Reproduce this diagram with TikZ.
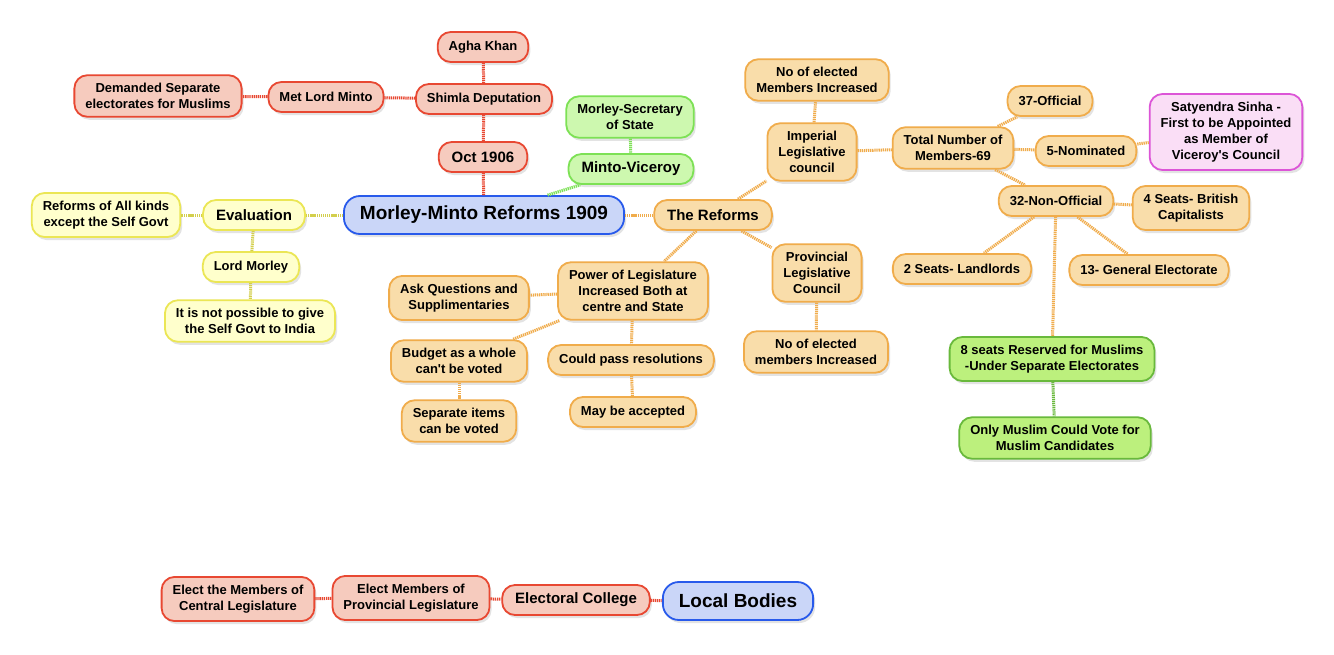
\documentclass[tikz,border=0pt]{standalone}
\usepackage{fontspec}
\setmainfont{Liberation Sans}
\usetikzlibrary{shadows}
\definecolor{redln}{RGB}{232,72,50}
\definecolor{redfl}{RGB}{246,203,190}
\definecolor{blueln}{RGB}{40,90,235}
\definecolor{bluefl}{RGB}{202,214,248}
\definecolor{greenln}{RGB}{125,225,85}
\definecolor{greenfl}{RGB}{205,248,175}
\definecolor{greendk}{RGB}{105,185,60}
\definecolor{greenmd}{RGB}{188,240,125}
\definecolor{yellowln}{RGB}{235,230,85}
\definecolor{yellowfl}{RGB}{255,255,204}
\definecolor{orangeln}{RGB}{240,172,75}
\definecolor{orangefl}{RGB}{249,221,170}
\definecolor{pinkln}{RGB}{220,85,215}
\definecolor{pinkfl}{RGB}{250,222,246}
\tikzset{
  mm/.style={rectangle, rounded corners=13pt, line width=1.8pt, align=center,
             inner xsep=11pt, inner ysep=8pt, minimum height=30pt,
             font=\bfseries\fontsize{13}{16}\selectfont,
             drop shadow={shadow xshift=2pt, shadow yshift=-3pt, opacity=0.22}},
  lvlone/.style={font=\bfseries\fontsize{15}{18}\selectfont, inner xsep=13pt},
  rootnode/.style={mm, draw=blueln, fill=bluefl, font=\bfseries\fontsize{19}{22}\selectfont,
             minimum height=38pt, inner xsep=16pt, rounded corners=16pt},
  redbox/.style={mm, draw=redln, fill=redfl},
  greenbox/.style={mm, draw=greenln, fill=greenfl},
  greenboxdk/.style={mm, draw=greendk, fill=greenmd},
  yellowbox/.style={mm, draw=yellowln, fill=yellowfl},
  orangebox/.style={mm, draw=orangeln, fill=orangefl},
  pinkbox/.style={mm, draw=pinkln, fill=pinkfl},
  lk/.style={line width=3pt, dash pattern=on 1.3pt off 0.8pt},
  redlk/.style={lk, draw=redln},
  greenlk/.style={lk, draw=greenln},
  greendklk/.style={lk, draw=greendk},
  yellowlk/.style={lk, draw=yellowln!90!black},
  orangelk/.style={lk, draw=orangeln},
}
\begin{document}
\begin{tikzpicture}[x=1pt, y=-1pt]
\fill[white] (0,0) rectangle (1334,654);
\node[redbox] (agha) at (483,47) {Agha Khan};
\node[redbox] (shimla) at (484,99) {Shimla Deputation};
\node[redbox] (metminto) at (326,97) {Met Lord Minto};
\node[redbox] (demanded) at (158,96) {Demanded Separate\\electorates for Muslims};
\node[redbox, lvlone] (oct) at (483,157) {Oct 1906};
\node[rootnode] (root) at (484,215) {Morley-Minto Reforms 1909};
\node[greenbox] (secretary) at (630,117) {Morley-Secretary\\of State};
\node[greenbox, lvlone] (viceroy) at (631,169) {Minto-Viceroy};
\node[yellowbox, lvlone] (evaluation) at (254,215) {Evaluation};
\node[yellowbox] (allkinds) at (106,215) {Reforms of All kinds\\except the Self Govt};
\node[yellowbox] (lordmorley) at (251,267) {Lord Morley};
\node[yellowbox] (notpossible) at (250,321) {It is not possible to give\\the Self Govt to India};
\node[orangebox, lvlone] (reforms) at (713,215) {The Reforms};
\node[orangebox] (power) at (633,291) {Power of Legislature\\Increased Both at\\centre and State};
\node[orangebox] (askq) at (459,298) {Ask Questions and\\Supplimentaries};
\node[orangebox] (budget) at (459,361) {Budget as a whole\\can\textquotesingle t be voted};
\node[orangebox] (items) at (459,421) {Separate items\\can be voted};
\node[orangebox] (resolutions) at (631,360) {Could pass resolutions};
\node[orangebox] (accepted) at (633,412) {May be accepted};
\node[orangebox] (imperial) at (812,152) {Imperial\\Legislative\\council};
\node[orangebox] (electedtop) at (817,80) {No of elected\\Members Increased};
\node[orangebox] (provincial) at (817,273) {Provincial\\Legislative\\Council};
\node[orangebox] (electedlow) at (816,352) {No of elected\\members Increased};
\node[orangebox] (total) at (953,148) {Total Number of\\Members-69};
\node[orangebox] (official) at (1050,101) {37-Official};
\node[orangebox] (nominated) at (1086,151) {5-Nominated};
\node[pinkbox] (sinha) at (1226,132) {Satyendra Sinha -\\First to be Appointed\\as Member of\\Viceroy\textquotesingle s Council};
\node[orangebox] (nonofficial) at (1056,201) {32-Non-Official};
\node[orangebox] (british) at (1191,208) {4 Seats- British\\Capitalists};
\node[orangebox] (landlords) at (962,269) {2 Seats- Landlords};
\node[orangebox] (general) at (1149,270) {13- General Electorate};
\node[greenboxdk] (reserved) at (1052,359) {8 seats Reserved for Muslims\\-Under Separate Electorates};
\node[greenboxdk] (onlymuslim) at (1055,438) {Only Muslim Could Vote for\\Muslim Candidates};
\node[redbox] (central) at (238,599) {Elect the Members of\\Central Legislature};
\node[redbox] (provleg) at (411,598) {Elect Members of\\Provincial Legislature};
\node[redbox, lvlone] (college) at (576,600) {Electoral College};
\node[rootnode] (local) at (738,601) {Local Bodies};
\draw[redlk] (agha) -- (shimla); \draw[redlk] (shimla) -- (metminto); \draw[redlk] (metminto) -- (demanded);
\draw[redlk] (shimla) -- (oct); \draw[redlk] (oct) -- (root);
\draw[greenlk] (root) -- (viceroy); \draw[greenlk] (secretary) -- (viceroy);
\draw[yellowlk] (root) -- (evaluation); \draw[yellowlk] (evaluation) -- (allkinds);
\draw[yellowlk] (evaluation) -- (lordmorley); \draw[yellowlk] (lordmorley) -- (notpossible);
\draw[orangelk] (root) -- (reforms); \draw[orangelk] (reforms) -- (imperial); \draw[orangelk] (reforms) -- (provincial);
\draw[orangelk] (reforms) -- (power); \draw[orangelk] (power) -- (askq); \draw[orangelk] (power) -- (budget);
\draw[orangelk] (power) -- (resolutions); \draw[orangelk] (resolutions) -- (accepted); \draw[orangelk] (budget) -- (items);
\draw[orangelk] (imperial) -- (electedtop); \draw[orangelk] (imperial) -- (total); \draw[orangelk] (provincial) -- (electedlow);
\draw[orangelk] (total) -- (official); \draw[orangelk] (total) -- (nominated); \draw[orangelk] (nominated) -- (sinha);
\draw[orangelk] (total) -- (nonofficial); \draw[orangelk] (nonofficial) -- (british);
\draw[orangelk] (nonofficial) -- (landlords); \draw[orangelk] (nonofficial) -- (general);
\draw[orangelk] (nonofficial) -- (reserved); \draw[greendklk] (reserved) -- (onlymuslim);
\draw[redlk] (central) -- (provleg); \draw[redlk] (provleg) -- (college); \draw[redlk] (college) -- (local);
\end{tikzpicture}
\end{document}
